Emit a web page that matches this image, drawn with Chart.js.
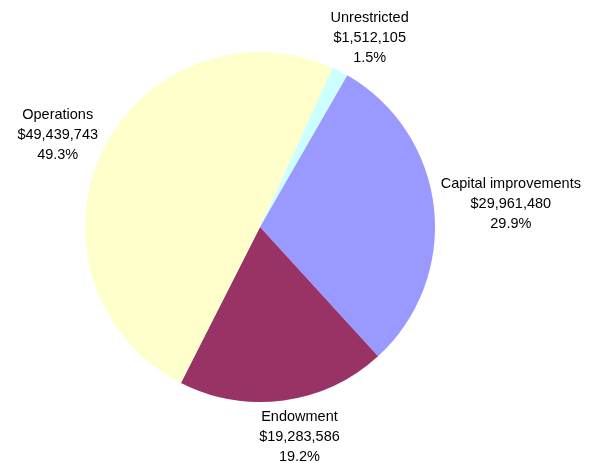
<!DOCTYPE html>
<html>
<head>
<meta charset="utf-8">
<script src="https://cdn.jsdelivr.net/npm/chart.js@4/dist/chart.umd.min.js"></script>
<style>
  html, body { margin: 0; padding: 0; background: #fff; }
  #myChart { display: block; }
</style>
</head>
<body>
<canvas id="myChart" width="591" height="463"></canvas>
<script>
'use strict';

const categories = ['Unrestricted', 'Capital improvements', 'Endowment', 'Operations'];
const amounts = [1512105, 29961480, 19283586, 49439743];
const sliceColors = ['#CCFFFF', '#9999FF', '#993366', '#FFFFCC'];

const ctx = document.getElementById('myChart');

function money(v) {
  return '$' + v.toLocaleString('en-US');
}

// labels outside the pie, like excel's data labels
const outsideLabels = {
  id: 'outsideLabels',
  afterDatasetsDraw(chart) {
    const c = chart.ctx;
    const meta = chart.getDatasetMeta(0);
    const total = amounts.reduce((a, b) => a + b, 0);
    const lineH = 20;
    c.save();
    c.font = '14.5px "Liberation Sans", Arial, sans-serif';
    c.fillStyle = '#000';
    c.textAlign = 'center';
    c.textBaseline = 'middle';
    meta.data.forEach((arc, i) => {
      const lines = [categories[i], money(amounts[i]), (amounts[i] / total * 100).toFixed(1) + '%'];
      const w = Math.max(...lines.map(l => c.measureText(l).width));
      const h = lineH * lines.length;
      const mid = (arc.startAngle + arc.endAngle) / 2;
      const dx = Math.cos(mid), dy = Math.sin(mid);
      const r = arc.outerRadius + 7;
      // push sideways a bit more than the plain direction, excel-ish
      const sx = Math.sign(dx) * Math.sqrt(Math.abs(dx));
      const cx = arc.x + r * dx + sx * w / 2;
      const cy = arc.y + r * dy + dy * h / 2;
      lines.forEach((l, j) => {
        c.fillText(l, cx, cy - h / 2 + lineH * (j + 0.5));
      });
    });
    c.restore();
  }
};

new Chart(ctx, {
  type: 'pie',
  data: {
    labels: categories,
    datasets: [{
      data: amounts,
      backgroundColor: sliceColors,
      borderWidth: 0
    }]
  },
  options: {
    responsive: false,
    animation: false,
    rotation: 24.5,
    layout: {
      padding: { left: 85, right: 156, top: 52, bottom: 61 }
    },
    plugins: {
      legend: { display: false },
      tooltip: { enabled: false }
    }
  },
  plugins: [outsideLabels]
});
</script>
</body>
</html>
